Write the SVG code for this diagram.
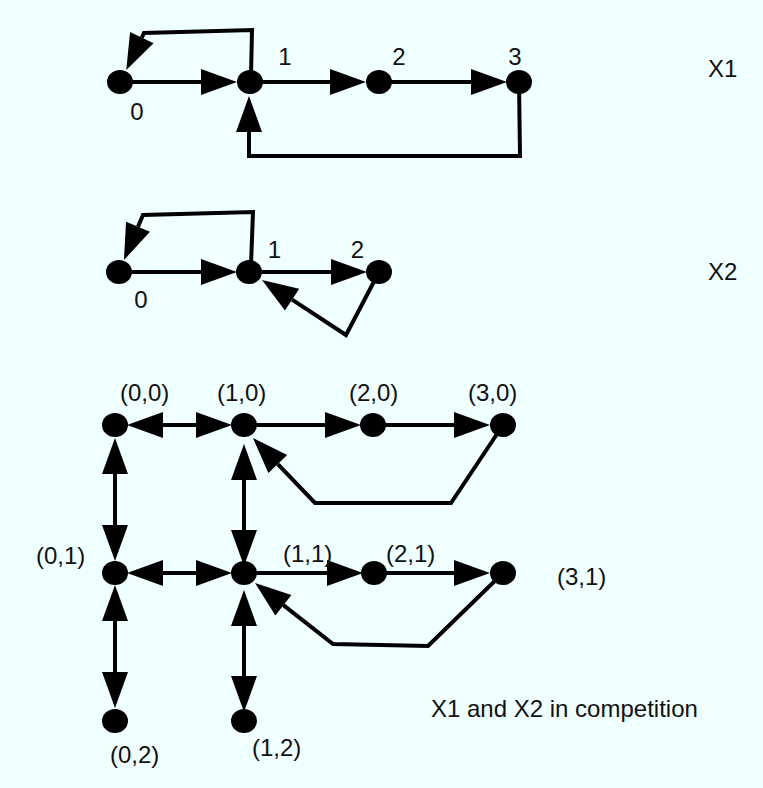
<svg xmlns="http://www.w3.org/2000/svg" width="763" height="788" viewBox="0 0 763 788">
  <style>
    .bg { fill: #F0FFFF; }
    .edge { fill: none; stroke: #000; stroke-width: 4; stroke-linejoin: miter; marker-end: url(#head); }
    .both { marker-start: url(#head); }
    .plain { marker-end: none; }
    .node { fill: #000; }
    text { font-family: "Liberation Sans", Arial, Helvetica, sans-serif; font-size: 24px; fill: #111; }
    .mid { text-anchor: middle; }
  </style>
  <defs>
    <!-- filled triangular head; its base sits on the path end and it points onward -->
    <marker id="head" markerUnits="userSpaceOnUse" markerWidth="36" markerHeight="26"
            refX="0" refY="13" orient="auto-start-reverse" overflow="visible">
      <path d="M0,0 L36,13 L0,26 Z" fill="#000"/>
    </marker>
  </defs>

  <rect class="bg" x="0" y="0" width="763" height="788"/>

  <g id="connectors">
    <!-- X1 -->
    <path class="edge" d="M120,82 L201,82"/>
    <path class="edge" d="M250,82 L330,82"/>
    <path class="edge" d="M379,82 L471,82"/>
    <path class="edge" d="M251,75 L252,30 L144,33 L141.8,37.6"/>
    <path class="edge" d="M519,82 L520,156 L249,156 L249,132"/>

    <!-- X2 -->
    <path class="edge" d="M119,272 L201,272"/>
    <path class="edge" d="M249,272 L331,272"/>
    <path class="edge" d="M251,265 L253,212 L143,215 L138,226.8"/>
    <path class="edge" d="M379,272 L346,335 L292.1,299.7"/>

    <!-- X1 and X2 in competition: row 0 -->
    <path class="edge both" d="M163,425 L196,425"/>
    <path class="edge" d="M244,425 L325,425"/>
    <path class="edge" d="M373,425 L454,425"/>
    <path class="edge" d="M503,425 L451,503 L315,503 L277.8,464.1"/>

    <!-- columns between row 0 and row 1 -->
    <path class="edge both" d="M115,474 L115,525"/>
    <path class="edge both" d="M244,480 L244,530"/>

    <!-- row 1 -->
    <path class="edge both" d="M163,573 L196,573"/>
    <path class="edge" d="M244,573 L327,573"/>
    <path class="edge" d="M374,573 L454,573"/>
    <path class="edge" d="M503,573 L428,646 L333,644 L283.4,605.2"/>

    <!-- columns between row 1 and row 2 -->
    <path class="edge both" d="M115,621 L115,672"/>
    <path class="edge both" d="M244,626 L244,676"/>
  </g>

  <!-- X1 -->
  <g id="x1-n0"><ellipse class="node" cx="120" cy="82" rx="13" ry="12"/><text class="mid" x="137" y="120">0</text></g>
  <g id="x1-n1"><ellipse class="node" cx="250" cy="82" rx="13" ry="12"/><text class="mid" x="285" y="65">1</text></g>
  <g id="x1-n2"><ellipse class="node" cx="379" cy="82" rx="13" ry="12"/><text class="mid" x="399" y="65">2</text></g>
  <g id="x1-n3"><ellipse class="node" cx="519" cy="82" rx="13" ry="12"/><text class="mid" x="515" y="65">3</text></g>
  <text id="title-x1" x="708" y="77">X1</text>

  <!-- X2 -->
  <g id="x2-n0"><ellipse class="node" cx="119" cy="272" rx="13" ry="12"/><text class="mid" x="141" y="308">0</text></g>
  <g id="x2-n1"><ellipse class="node" cx="249" cy="272" rx="13" ry="12"/><text class="mid" x="274.5" y="258">1</text></g>
  <g id="x2-n2"><ellipse class="node" cx="379" cy="272" rx="13" ry="12"/><text class="mid" x="357.5" y="258">2</text></g>
  <text id="title-x2" x="708" y="280">X2</text>

  <!-- product graph -->
  <g id="s00"><ellipse class="node" cx="115" cy="425" rx="13" ry="12"/><text x="120" y="401">(0,0)</text></g>
  <g id="s10"><ellipse class="node" cx="244" cy="425" rx="13" ry="12"/><text x="217" y="401">(1,0)</text></g>
  <g id="s20"><ellipse class="node" cx="373" cy="425" rx="13" ry="12"/><text x="349" y="401">(2,0)</text></g>
  <g id="s30"><ellipse class="node" cx="503" cy="425" rx="13" ry="12"/><text x="468" y="401">(3,0)</text></g>
  <g id="s01"><ellipse class="node" cx="115" cy="573" rx="13" ry="12"/><text x="36" y="564">(0,1)</text></g>
  <g id="s11"><ellipse class="node" cx="244" cy="573" rx="13" ry="12"/><text x="283" y="562">(1,1)</text></g>
  <g id="s21"><ellipse class="node" cx="374" cy="573" rx="13" ry="12"/><text x="386" y="562">(2,1)</text></g>
  <g id="s31"><ellipse class="node" cx="503" cy="573" rx="13" ry="12"/><text x="557" y="585">(3,1)</text></g>
  <g id="s02"><ellipse class="node" cx="115" cy="721" rx="13" ry="12"/><text x="110" y="763">(0,2)</text></g>
  <g id="s12"><ellipse class="node" cx="244" cy="721" rx="13" ry="12"/><text x="252" y="756">(1,2)</text></g>
  <text id="caption" x="431" y="717">X1 and X2 in competition</text>
</svg>
